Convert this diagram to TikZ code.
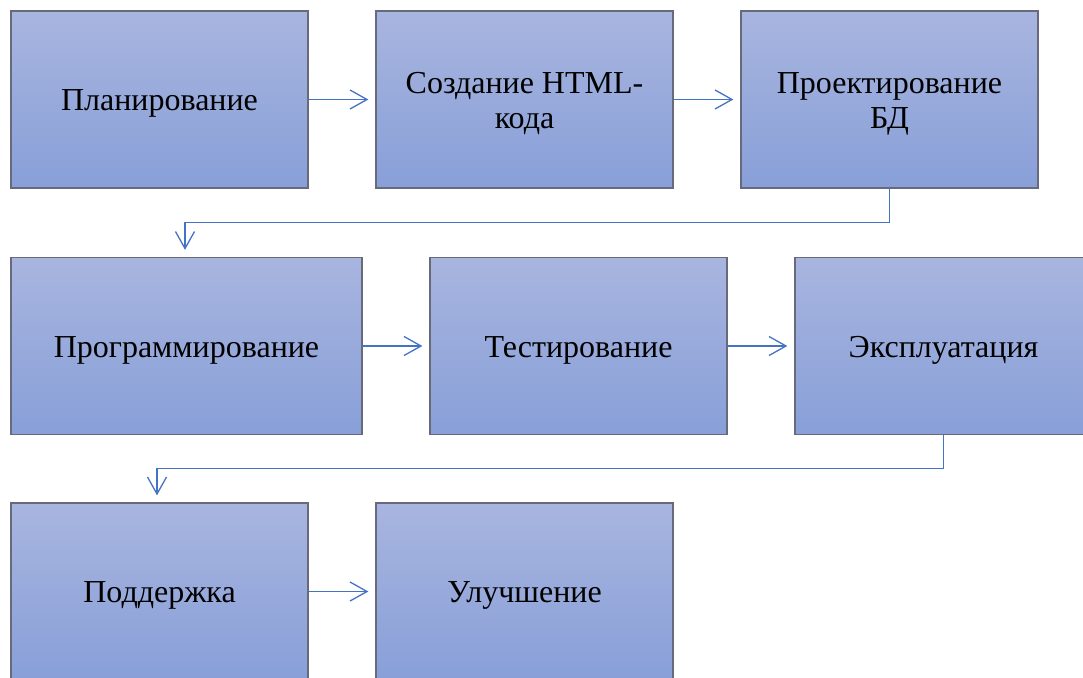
\documentclass[tikz,border=0pt]{standalone}
\usepackage{fontspec}
\setmainfont{Liberation Serif}
\usetikzlibrary{arrows.meta}
\definecolor{boxtop}{HTML}{A8B5DF}
\definecolor{boxbot}{HTML}{889FD8}
\definecolor{boxline}{HTML}{666A7A}
\definecolor{conn}{HTML}{4472C4}
\tikzset{
  stepbox/.style={rectangle, draw=boxline, line width=1.3pt, top color=boxtop, bottom color=boxbot,
    minimum width=297pt, minimum height=177pt, inner sep=0pt},
  widebox/.style={stepbox, minimum width=351pt},
  steptext/.style={inner sep=0pt, align=center, font=\fontsize{32}{35}\selectfont, yshift=-4pt},
  flow/.style={draw=conn, line width=1.3pt, -{Straight Barb[length=17pt,width=19pt,line width=1.3pt]}, shorten >=7pt}
}
\begin{document}
\begin{tikzpicture}[x=1pt,y=-1pt]
\useasboundingbox (0,0) rectangle (1083,677);
\clip (0,0) rectangle (1083,677);
\node[stepbox] (b1) at (159.5,99.5) {};
\node[stepbox] (b2) at (524.5,99.5) {};
\node[stepbox] (b3) at (889.5,99.5) {};
\node[widebox] (b4) at (186.5,346) {};
\node[stepbox] (b5) at (578.5,346) {};
\node[stepbox] (b6) at (943.5,346) {};
\node[stepbox] (b7) at (159.5,591.5) {};
\node[stepbox] (b8) at (524.5,591.5) {};
\node[steptext] (t1) at (b1.center) {Планирование};
\node[steptext] (t2) at (b2.center) {Создание HTML-\\кода};
\node[steptext] (t3) at (b3.center) {Проектирование\\БД};
\node[steptext] (t4) at (b4.center) {Программирование};
\node[steptext] (t5) at (b5.center) {Тестирование};
\node[steptext] (t6) at (b6.center) {Эксплуатация};
\node[steptext] (t7) at (b7.center) {Поддержка};
\node[steptext] (t8) at (b8.center) {Улучшение};
\draw[flow] (b1) -- (b2);
\draw[flow] (b2) -- (b3);
\draw[flow] (b3.south) -- ++(0,34) -| ([xshift=-1.5pt]b4.north);
\draw[flow] (b4) -- (b5);
\draw[flow] (b5) -- (b6);
\draw[flow] (b6.south) -- ++(0,33) -| ([xshift=-2.5pt]b7.north);
\draw[flow] (b7) -- (b8);
\end{tikzpicture}
\end{document}
